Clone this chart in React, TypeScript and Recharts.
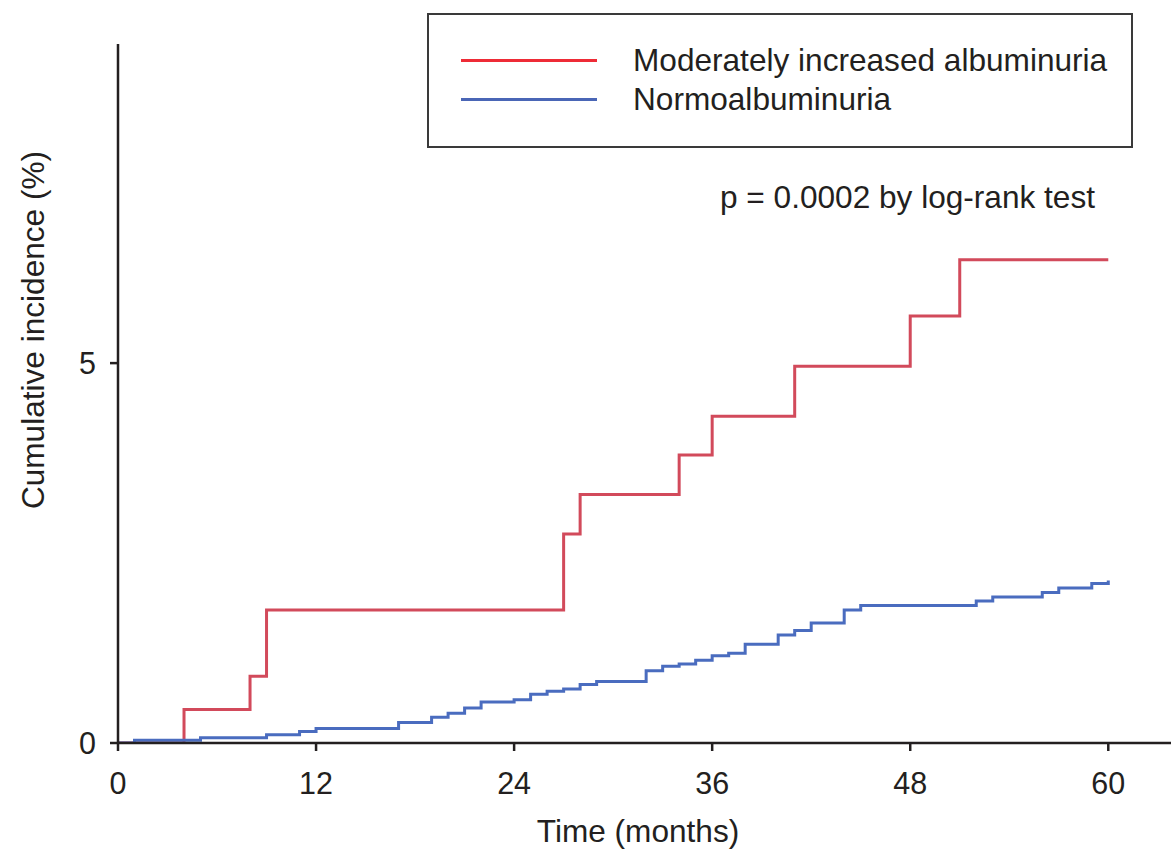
import { LineChart, Line, XAxis, YAxis, Legend } from "recharts";

const FONT = '"Liberation Sans", Arial, Helvetica, sans-serif';
const INK = "#231f20";

// months / cumulative incidence (%)
const moderateTimes = [0, 4, 8, 9, 27, 28, 34, 36, 41, 48, 51, 60];
const moderateValues = [0, 0.44, 0.88, 1.75, 2.75, 3.27, 3.79, 4.3, 4.96, 5.62, 6.36, 6.36];

const normoTimes = [
  0, 1, 5, 9, 11, 12, 17, 19, 20, 21, 22, 24, 25, 26, 27, 28, 29, 32, 33, 34, 35, 36, 37, 38,
  40, 41, 42, 44, 45, 52, 53, 56, 57, 59, 60,
];
const normoValues = [
  0, 0.035, 0.07, 0.11, 0.15, 0.19, 0.27, 0.34, 0.39, 0.46, 0.54, 0.57, 0.64, 0.68, 0.71, 0.77,
  0.81, 0.95, 1.01, 1.04, 1.09, 1.15, 1.18, 1.3, 1.42, 1.48, 1.58, 1.75, 1.81, 1.87, 1.92, 1.98,
  2.04, 2.1, 2.14,
];

const xTicks = [0, 12, 24, 36, 48, 60];
const yTicks = [0, 5];

const series = [
  {
    key: "moderate",
    name: "Moderately increased albuminuria",
    color: "#d24a5b",
    legendColor: "#ee2b36",
    data: moderateTimes.map((t, i) => ({ t, v: moderateValues[i] })),
  },
  {
    key: "normo",
    name: "Normoalbuminuria",
    color: "#4a6cbf",
    legendColor: "#4a66b6",
    data: normoTimes.map((t, i) => ({ t, v: normoValues[i] })),
  },
];

function LegendBox() {
  return (
    <div style={{ position: "relative", width: 1171, height: 220, fontFamily: FONT, color: INK }}>
      <div
        style={{
          position: "absolute",
          left: 427,
          top: 13,
          width: 702,
          height: 131,
          border: "2px solid #3a3a3a",
        }}
      />
      {series.map((s, i) => (
        <div key={s.key}>
          <div
            style={{
              position: "absolute",
              left: 461,
              top: 60 + i * 39 - 1.5,
              width: 136,
              height: 3,
              background: s.legendColor,
            }}
          />
          <div
            style={{
              position: "absolute",
              left: 633,
              top: 60 + i * 39 - 18,
              fontSize: 31.6,
              lineHeight: "36px",
              whiteSpace: "nowrap",
            }}
          >
            {s.name}
          </div>
        </div>
      ))}
      <div
        style={{
          position: "absolute",
          left: 720,
          top: 197 - 18,
          fontSize: 31.6,
          lineHeight: "36px",
          whiteSpace: "nowrap",
        }}
      >
        p = 0.0002 by log-rank test
      </div>
    </div>
  );
}

function YTitle() {
  return (
    <text
      x={33}
      y={330}
      transform="rotate(-90 33 330)"
      textAnchor="middle"
      dominantBaseline="central"
      fontSize={31.6}
      fontFamily={FONT}
      fill={INK}
    >
      Cumulative incidence (%)
    </text>
  );
}

function XTitle() {
  return (
    <text
      x={638}
      y={831}
      textAnchor="middle"
      dominantBaseline="central"
      fontSize={31.6}
      fontFamily={FONT}
      fill={INK}
    >
      Time (months)
    </text>
  );
}

export default function App() {
  const tickStyle = { fill: INK, fontSize: 30.5, fontFamily: FONT };
  const axisLine = { stroke: INK, strokeWidth: 2.5 };
  return (
    <div style={{ position: "absolute", left: 0, top: 0, width: 1171, height: 850, background: "#fff" }}>
      <LineChart width={1171} height={850} margin={{ top: 44, right: 0, left: 0, bottom: 0 }}>
        <XAxis
          type="number"
          dataKey="t"
          domain={[0, 63.8]}
          ticks={xTicks}
          allowDataOverflow
          height={107}
          axisLine={axisLine}
          tickLine={axisLine}
          tickSize={8}
          tickMargin={21}
          tick={tickStyle}
          label={<XTitle />}
        />
        <YAxis
          type="number"
          dataKey="v"
          domain={[0, 9.2]}
          ticks={yTicks}
          allowDataOverflow
          width={118}
          axisLine={axisLine}
          tickLine={axisLine}
          tickSize={8}
          tickMargin={14}
          tick={tickStyle}
          label={<YTitle />}
        />
        <Legend
          layout="vertical"
          align="center"
          verticalAlign="middle"
          wrapperStyle={{ left: 0, top: 0, width: 1171, height: 220 }}
          content={() => <LegendBox />}
        />
        {series.map((s) => (
          <Line
            key={s.key}
            data={s.data}
            dataKey="v"
            name={s.name}
            type="stepAfter"
            stroke={s.color}
            strokeWidth={3}
            dot={false}
            activeDot={false}
            isAnimationActive={false}
          />
        ))}
      </LineChart>
    </div>
  );
}
